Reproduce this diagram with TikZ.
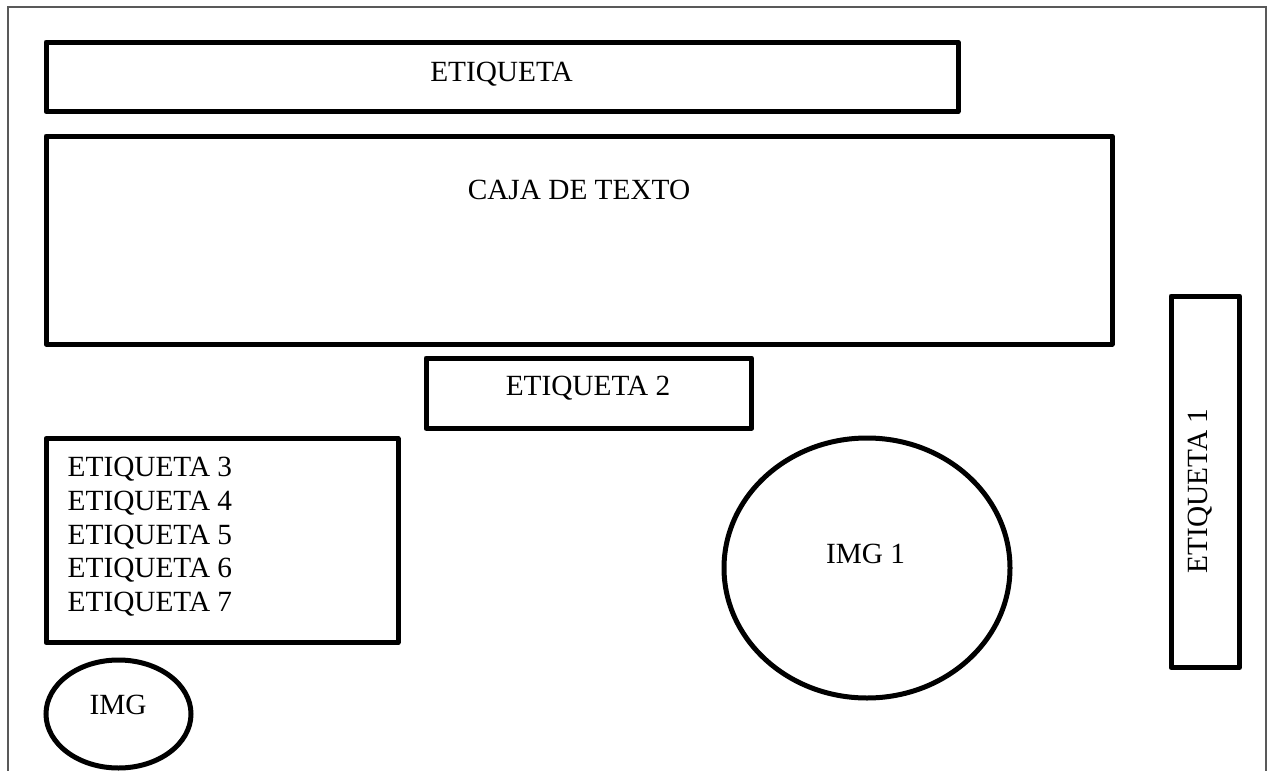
\documentclass[tikz,border=0pt]{standalone}
\usepackage{fontspec}
\setmainfont{Liberation Serif}
\usetikzlibrary{shapes.geometric}
\begin{document}
\begin{tikzpicture}[x=1pt,y=-1pt,
  box/.style={draw=black,line width=5pt,line join=round,rectangle,inner sep=0pt,outer sep=0pt},
  oval/.style={draw=black,line width=5pt,ellipse,inner sep=0pt,outer sep=0pt},
  lbl/.style={inner sep=0pt,outer sep=0pt,font=\fontsize{29.3}{33.75}\selectfont,text=black},
  frame/.style={draw=black!65,line width=1.4pt}]
\useasboundingbox (0,0) rectangle (1272,771);
\coordinate (fa) at (8,771);
\coordinate (fb) at (8,7);
\coordinate (fc) at (1266,7);
\coordinate (fd) at (1266,771);
\draw[frame] (fa) -- (fb) -- (fc) -- (fd);
% boxes
\node[box,minimum width=912pt,minimum height=69.5pt] (etq) at (502,76.75) {};
\node[box,minimum width=1066pt,minimum height=208pt] (caja) at (579,240) {};
\node[box,minimum width=325.7pt,minimum height=70.3pt] (etq2) at (588.85,393.15) {};
\node[box,minimum width=352pt,minimum height=204pt] (lista) at (222,540.5) {};
\node[box,minimum width=68.5pt,minimum height=371.5pt] (etq1) at (1205.25,481.75) {};
\node[oval,minimum width=286pt,minimum height=260pt] (img1) at (867,568) {};
\node[oval,minimum width=145pt,minimum height=108pt] (img) at (118.5,714) {};
% texts
\node[lbl,anchor=base] (tetq) at (501.5,81.7) {ETIQUETA};
\node[lbl,anchor=base] (tcaja) at (579,199.3) {CAJA DE TEXTO};
\node[lbl,anchor=base] (tetq2) at (588,395) {ETIQUETA 2};
\foreach \n [count=\k from 0] in {3,4,5,6,7}
  \node[lbl,anchor=base west] (t\n) at (67.7,476.7+\k*33.75) {ETIQUETA \n};
\node[lbl,anchor=base] (timg1) at (865.5,563.3) {IMG 1};
\node[lbl,anchor=base] (timg) at (118,714.3) {IMG};
\node[lbl,anchor=base,rotate=90] (tetq1) at (1207,491) {ETIQUETA 1};
\end{tikzpicture}
\end{document}
